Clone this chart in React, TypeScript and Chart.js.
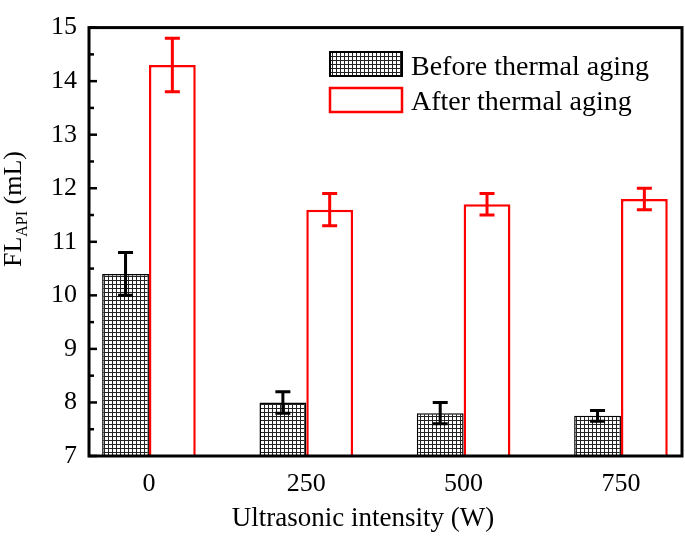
import React, { useEffect, useRef } from "react";
import { Chart, registerables } from "chart.js";

Chart.register(...registerables);

const categories = ["0", "250", "500", "750"];
const beforeValues = [10.4, 8.0, 7.8, 7.75];
const beforeErrors = [0.4, 0.2, 0.2, 0.1];
const afterValues = [14.3, 11.6, 11.7, 11.8];
const afterErrors = [0.5, 0.3, 0.2, 0.2];
const seriesNames = ["Before thermal aging", "After thermal aging"];
const yTicks = [7, 8, 9, 10, 11, 12, 13, 14, 15];

const FONT = "'Liberation Serif', 'Times New Roman', serif";

function makePattern(): CanvasPattern | string {
  const c = document.createElement("canvas");
  c.width = 4;
  c.height = 4;
  const g = c.getContext("2d");
  if (!g) return "#888";
  g.fillStyle = "#ffffff";
  g.fillRect(0, 0, 4, 4);
  g.fillStyle = "#222222";
  g.fillRect(0, 0, 4, 1);
  g.fillRect(0, 0, 1, 4);
  const p = g.createPattern(c, "repeat");
  return p || "#888";
}

export default function App() {
  const ref = useRef<HTMLCanvasElement | null>(null);

  useEffect(() => {
    if (!ref.current) return;
    const pattern = makePattern();
    const errs = [beforeErrors, afterErrors];
    const errColors = ["#000000", "#ff0000"];

    const overlay = {
      id: "overlay",
      afterDatasetsDraw(chart: any) {
        const ctx = chart.ctx;
        const ys = chart.scales.y;
        chart.data.datasets.forEach((ds: any, di: number) => {
          const meta = chart.getDatasetMeta(di);
          meta.data.forEach((el: any, i: number) => {
            const v = ds.data[i].y;
            const e = errs[di][i];
            const yt = ys.getPixelForValue(v + e);
            const yb = ys.getPixelForValue(v - e);
            ctx.save();
            ctx.strokeStyle = errColors[di];
            ctx.lineWidth = 3;
            ctx.beginPath();
            ctx.moveTo(el.x, yt);
            ctx.lineTo(el.x, yb);
            ctx.moveTo(el.x - 7.5, yt);
            ctx.lineTo(el.x + 7.5, yt);
            ctx.moveTo(el.x - 7.5, yb);
            ctx.lineTo(el.x + 7.5, yb);
            ctx.stroke();
            ctx.restore();
          });
        });
      },
      afterDraw(chart: any) {
        const ctx = chart.ctx;
        const a = chart.chartArea;
        const ys = chart.scales.y;
        ctx.save();
        ctx.strokeStyle = "#000";
        ctx.lineWidth = 3;
        ctx.strokeRect(a.left, a.top, a.right - a.left, a.bottom - a.top);
        ctx.lineWidth = 2.5;
        for (let k = 0; k < yTicks.length; k++) {
          const v = yTicks[k];
          const y = ys.getPixelForValue(v);
          ctx.beginPath();
          ctx.moveTo(a.left, y);
          ctx.lineTo(a.left + 8, y);
          ctx.stroke();
          if (k < yTicks.length - 1) {
            const ym = ys.getPixelForValue(v + 0.5);
            ctx.beginPath();
            ctx.moveTo(a.left, ym);
            ctx.lineTo(a.left + 5, ym);
            ctx.stroke();
          }
        }
        const ds = chart.data.datasets;
        ctx.fillStyle = pattern as any;
        ctx.fillRect(330, 52, 72, 24);
        ctx.strokeStyle = "#000";
        ctx.lineWidth = 2;
        ctx.strokeRect(330, 52, 72, 24);
        ctx.fillStyle = "#fff";
        ctx.fillRect(330, 88, 72, 24);
        ctx.strokeStyle = "#ff0000";
        ctx.lineWidth = 2.5;
        ctx.strokeRect(330, 88, 72, 24);
        ctx.fillStyle = "#000";
        ctx.font = `28px ${FONT}`;
        ctx.textAlign = "left";
        ctx.textBaseline = "alphabetic";
        ctx.fillText(ds[0].label, 411, 75);
        ctx.fillText(ds[1].label, 411, 110);
        ctx.font = `27px ${FONT}`;
        ctx.textAlign = "center";
        ctx.fillText("Ultrasonic intensity (W)", 363, 526);
        ctx.translate(21, 209);
        ctx.rotate(-Math.PI / 2);
        ctx.textAlign = "left";
        const big = `26px ${FONT}`;
        const small = `16px ${FONT}`;
        ctx.font = big;
        const w1 = ctx.measureText("FL").width;
        const w3 = ctx.measureText(" (mL)").width;
        ctx.font = small;
        const w2 = ctx.measureText("API").width;
        let x = -(w1 + w2 + w3) / 2;
        ctx.font = big;
        ctx.fillText("FL", x, 0);
        x += w1;
        ctx.font = small;
        ctx.fillText("API", x, 6);
        x += w2;
        ctx.font = big;
        ctx.fillText(" (mL)", x, 0);
        ctx.restore();
      },
    };

    const chart = new Chart(ref.current, {
      type: "bar",
      data: {
        datasets: [
          {
            label: seriesNames[0],
            data: beforeValues.map((v, i) => ({ x: i, y: v })),
            backgroundColor: pattern as any,
            borderColor: "#000000",
            borderWidth: 1.5,
          },
          {
            label: seriesNames[1],
            data: afterValues.map((v, i) => ({ x: i, y: v })),
            backgroundColor: "#ffffff",
            borderColor: "#ff0000",
            borderWidth: 2.5,
          },
        ],
      },
      options: {
        animation: false,
        responsive: false,
        maintainAspectRatio: false,
        layout: { padding: { top: 13, right: 3, left: 0, bottom: 0 } },
        datasets: {
          bar: { categoryPercentage: 0.595, barPercentage: 1, base: 7 } as any,
        },
        plugins: {
          legend: { display: false },
          tooltip: { enabled: false },
        },
        scales: {
          x: {
            type: "linear",
            offset: false,
            min: -0.381,
            max: 3.388,
            grid: { display: false, drawTicks: false, offset: false },
            border: { display: false },
            afterFit: (s: any) => {
              s.height = 83;
            },
            afterBuildTicks: (s: any) => {
              s.ticks = categories.map((_, i) => ({ value: i }));
            },
            ticks: {
              autoSkip: false,
              padding: 13,
              color: "#000",
              font: { family: FONT, size: 26 },
              callback: (v: any) => categories[Math.round(Number(v))] ?? "",
            },
          },
          y: {
            min: 7,
            max: 15,
            grid: { display: false, drawTicks: false },
            border: { display: false },
            afterFit: (s: any) => {
              s.width = 89;
            },
            afterBuildTicks: (s: any) => {
              s.ticks = yTicks.map((v) => ({ value: v }));
            },
            ticks: {
              padding: 12,
              color: "#000",
              font: { family: FONT, size: 26 },
            },
          },
        },
      },
      plugins: [overlay],
    });
    return () => chart.destroy();
  }, []);

  return (
    <div style={{ position: "fixed", left: 0, top: 0, width: 685, height: 539, background: "#fff" }}>
      <canvas ref={ref} width={685} height={539} style={{ width: 685, height: 539, display: "block" }} />
    </div>
  );
}
